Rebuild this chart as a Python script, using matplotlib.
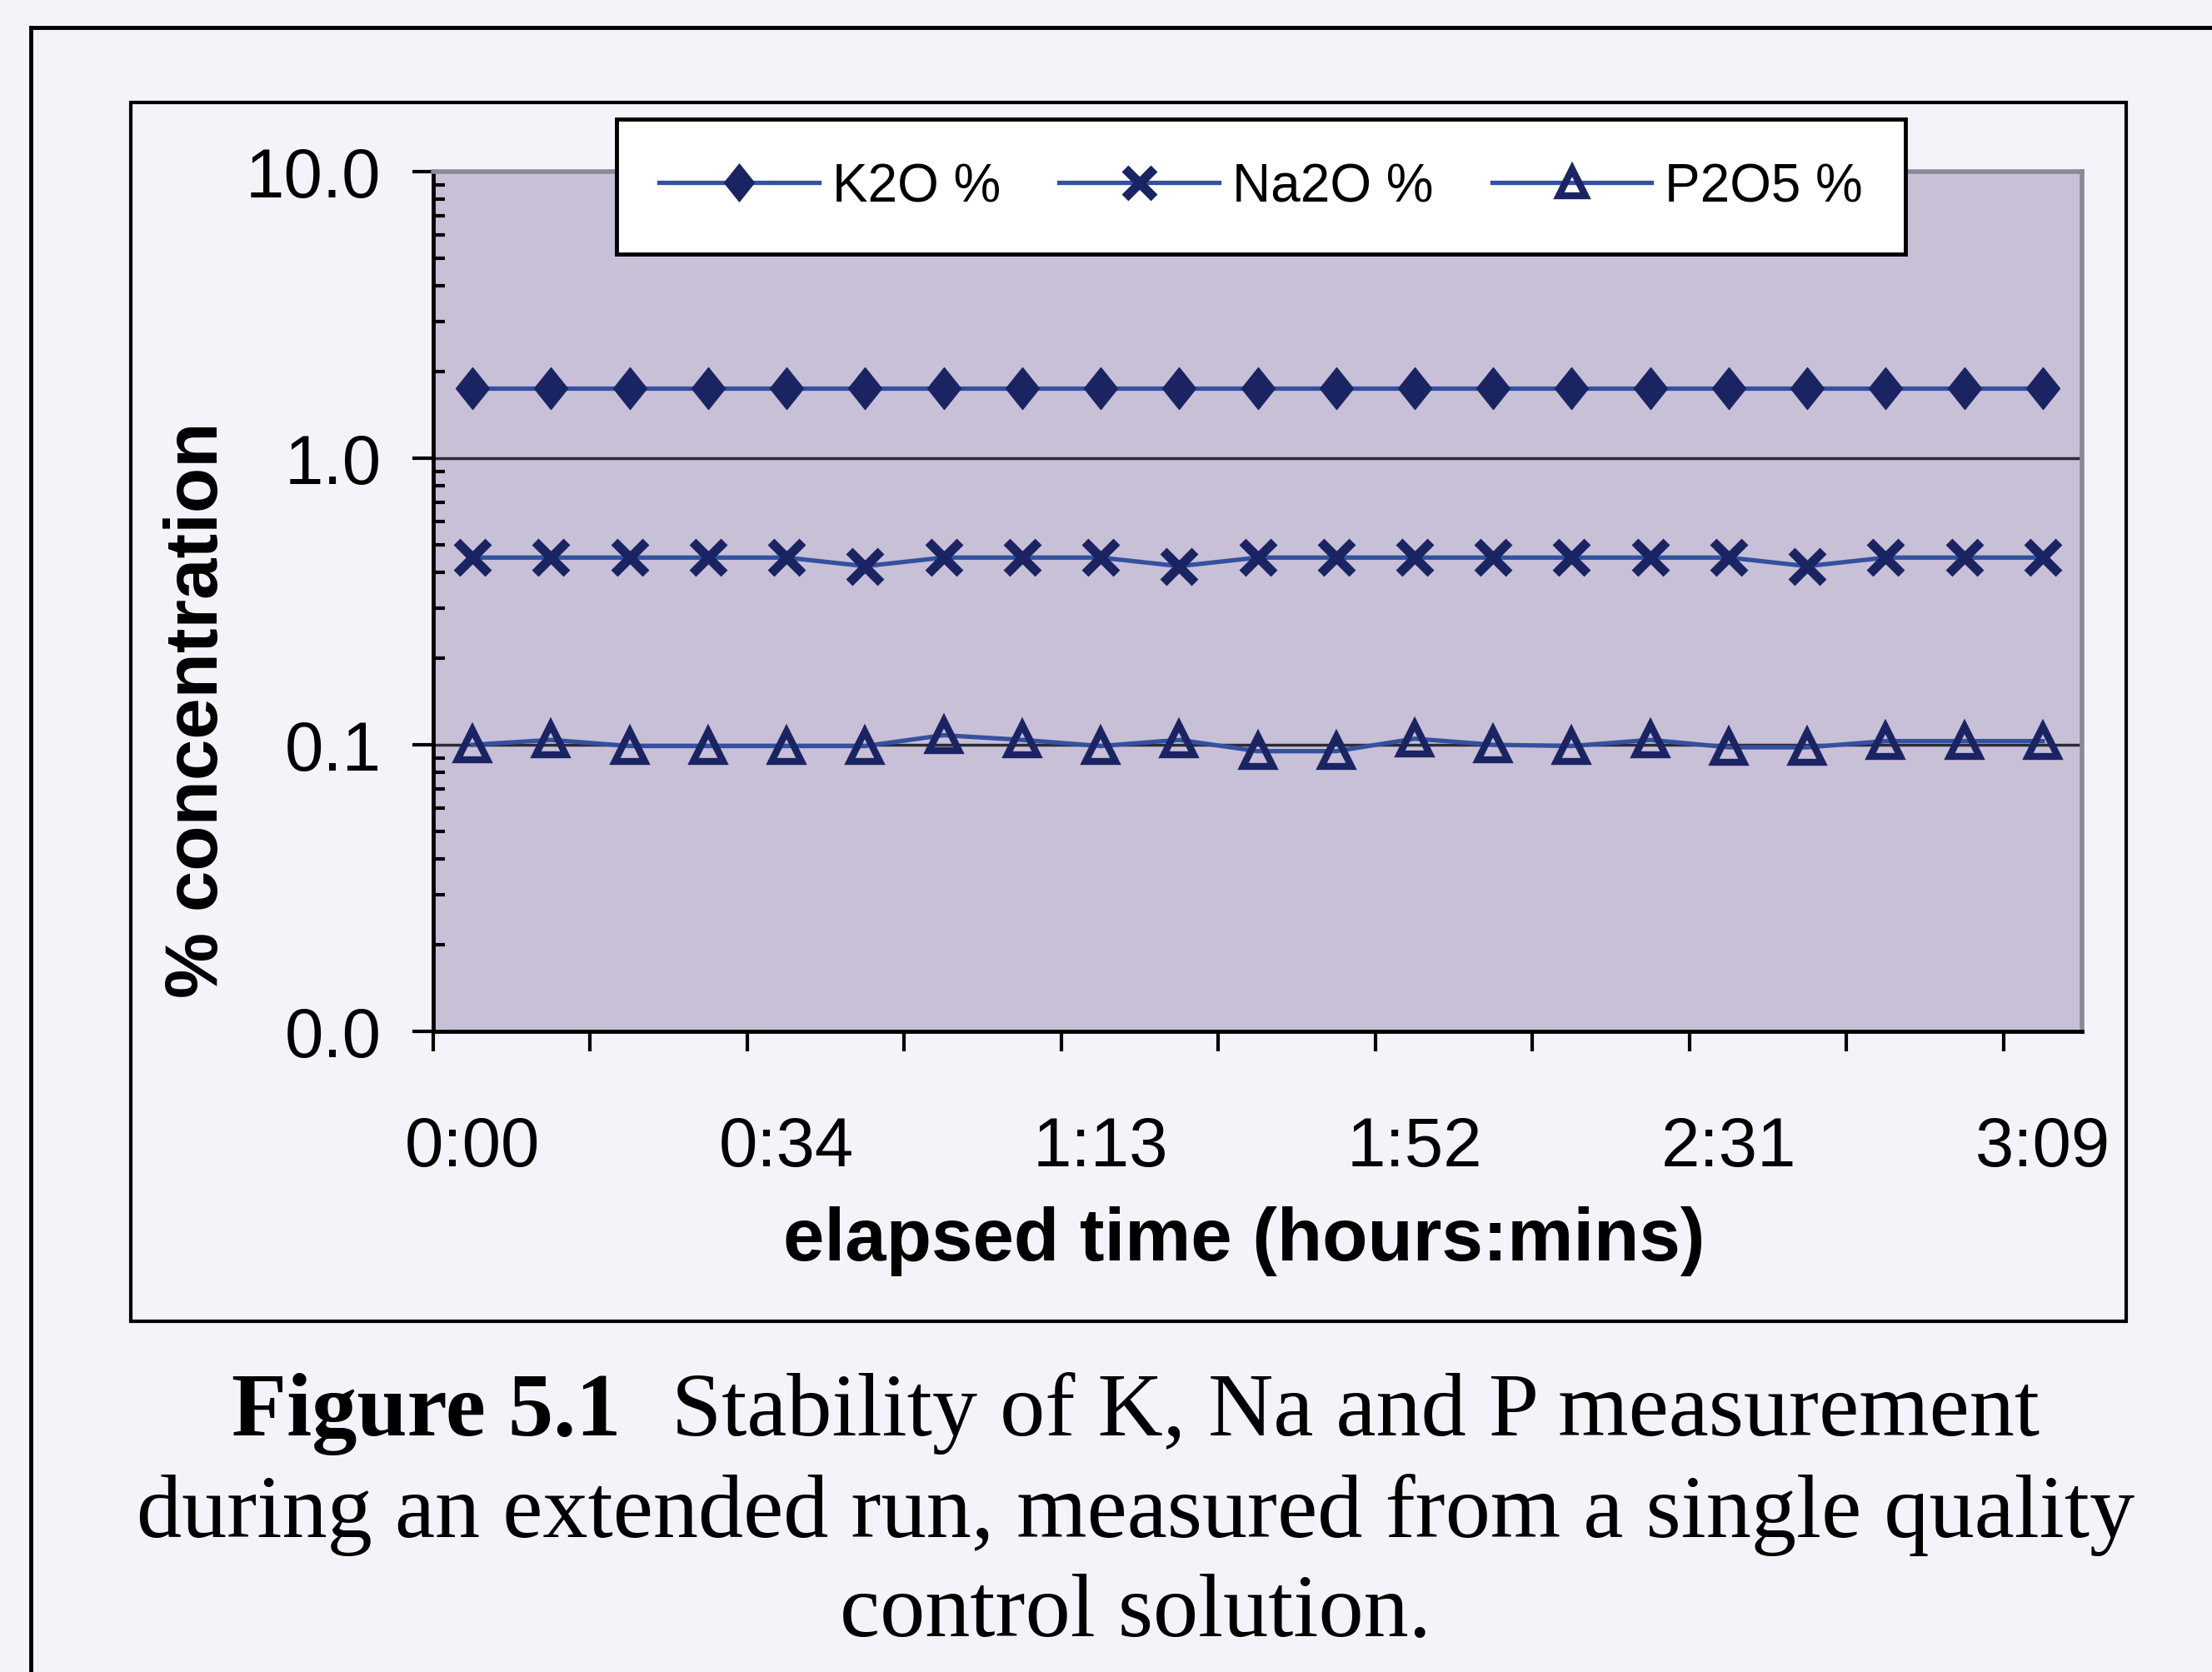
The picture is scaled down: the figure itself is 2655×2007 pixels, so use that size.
import matplotlib
matplotlib.use("Agg")
import matplotlib.pyplot as plt
from matplotlib.lines import Line2D
from matplotlib.patches import Rectangle
from matplotlib.path import Path
from matplotlib.ticker import LogLocator, NullFormatter, FixedLocator

# ---------------- data ----------------
k2o = [1.75, 1.75, 1.75, 1.75, 1.75, 1.75, 1.75, 1.75, 1.75, 1.75, 1.75,
       1.75, 1.75, 1.75, 1.75, 1.75, 1.75, 1.75, 1.75, 1.75, 1.75]
na2o = [0.45, 0.45, 0.45, 0.45, 0.45, 0.42, 0.45, 0.45, 0.45, 0.42, 0.45,
        0.45, 0.45, 0.45, 0.45, 0.45, 0.45, 0.42, 0.45, 0.45, 0.45]
p2o5 = [0.100, 0.104, 0.099, 0.099, 0.099, 0.099, 0.108, 0.104, 0.099, 0.104, 0.095,
        0.095, 0.105, 0.100, 0.099, 0.104, 0.098, 0.098, 0.103, 0.103, 0.103]
series_names = ["K2O %", "Na2O %", "P2O5 %"]
time_labels = ["0:00", "0:34", "1:13", "1:52", "2:31", "3:09"]
label_every = 4
tick_every = 2
y_ticks = [0.01, 0.1, 1.0, 10.0]
y_tick_labels = ["0.0", "0.1", "1.0", "10.0"]

# ---------------- style ----------------
W, H = 2655, 2008
DPI = 100
page_bg = "#f4f3fa"
plot_bg = "#c8c0d7"
line_col = "#33519f"
mark_col = "#1b2463"

def fx(px):
    return px / W

def fy(py):
    return 1 - py / H

fig = plt.figure(figsize=(W / DPI, H / DPI), dpi=DPI)
fig.patch.set_facecolor(page_bg)

# page frame (top + left lines)
fig.add_artist(Line2D([fx(37), 1.0], [fy(34), fy(34)], color="black", lw=3.5,
                      transform=fig.transFigure))
fig.add_artist(Line2D([fx(37), fx(37)], [fy(34), 0.0], color="black", lw=3.5,
                      transform=fig.transFigure))

# chart box
fig.add_artist(Rectangle((fx(157), fy(1587)), fx(2552) - fx(157), fy(124) - fy(1587),
                         transform=fig.transFigure, fill=False, ec="black", lw=3))

# axes
ax = fig.add_axes([fx(520), fy(1239), fx(2499) - fx(520), fy(207) - fy(1239)])
ax.set_facecolor(plot_bg)

n = len(k2o)
xs = list(range(n))

diamond = Path([(0, 1), (0.8, 0), (0, -1), (-0.8, 0), (0, 1)],
               [Path.MOVETO, Path.LINETO, Path.LINETO, Path.LINETO, Path.CLOSEPOLY])

styles = [
    dict(marker=diamond, ms=36, mfc=mark_col, mec=mark_col, mew=1),
    dict(marker="x", ms=28, mfc=mark_col, mec=mark_col, mew=8),
    dict(marker="^", ms=26, mfc="none", mec=mark_col, mew=6),
]
handles = []
for vals, name, st in zip([k2o, na2o, p2o5], series_names, styles):
    h, = ax.plot(xs, vals, color=line_col, lw=3.8, label=name, zorder=3, **st)
    handles.append(h)

ax.set_yscale("log")
ax.set_ylim(0.01, 10)
ax.set_xlim(-0.5, n - 0.5)

ax.set_yticks(y_ticks)
ax.set_yticklabels(y_tick_labels)
ax.yaxis.set_minor_locator(LogLocator(base=10, subs=[2, 3, 4, 5, 6, 7, 8, 9], numticks=20))
ax.yaxis.set_minor_formatter(NullFormatter())
ax.tick_params(axis="y", which="major", direction="out", length=18, width=3,
               pad=27, labelsize=60)
ax.tick_params(axis="y", which="minor", direction="in", length=10, width=3)

label_pos = xs[::label_every]
ax.set_xticks(label_pos)
ax.set_xticklabels(time_labels)
ax.xaxis.set_minor_locator(FixedLocator([x - 0.5 for x in xs[::tick_every]]))
ax.tick_params(axis="x", which="major", length=0, pad=72, labelsize=60)
ax.tick_params(axis="x", which="minor", direction="out", length=17, width=3)

for lab in ax.get_xticklabels() + ax.get_yticklabels():
    lab.set_fontfamily("Liberation Sans")

ax.grid(False)
for yv in y_ticks[1:3]:
    ax.axhline(yv, color="#2b2b33", lw=2.5, zorder=2)

for side in ["left", "bottom"]:
    ax.spines[side].set_color("black")
    ax.spines[side].set_linewidth(3.5)
for side in ["top", "right"]:
    ax.spines[side].set_color("#8d8799")
    ax.spines[side].set_linewidth(4)

# axis labels
fig.text(fx(1493), fy(1490), "elapsed time (hours:mins)", ha="center", va="center",
         fontsize=64, fontweight="bold", family="Liberation Sans")
fig.text(fx(238), fy(852), "% concentration", ha="center", va="center", rotation=90,
         fontsize=64, fontweight="bold", family="Liberation Sans")

# legend
leg = fig.legend(handles=handles, labels=series_names, loc="upper left",
                 bbox_to_anchor=(fx(740), fy(144)), bbox_transform=fig.transFigure,
                 ncol=3, frameon=True, fancybox=False, shadow=False,
                 prop={"family": "Liberation Sans", "size": 46},
                 handlelength=3.0, handletextpad=0.25, columnspacing=1.1,
                 borderpad=0.8, borderaxespad=0, markerscale=0.9)
leg.get_frame().set_edgecolor("black")
leg.get_frame().set_linewidth(3.5)
leg.get_frame().set_facecolor("white")
leg.get_frame().set_alpha(1)

# caption
renderer = fig.canvas.get_renderer()
cap_cx = 1363
cap_size = 78
t1 = fig.text(0, fy(1723), "Figure 5.1", fontsize=cap_size, fontweight="bold",
              family="Liberation Serif", va="baseline", ha="left")
t2 = fig.text(0, fy(1723), "Stability of K, Na and P measurement", fontsize=cap_size,
              family="Liberation Serif", va="baseline", ha="left")
w1 = t1.get_window_extent(renderer).width
w2 = t2.get_window_extent(renderer).width
gap = 60
start = cap_cx - (w1 + gap + w2) / 2
t1.set_x(fx(start))
t2.set_x(fx(start + w1 + gap))
fig.text(fx(cap_cx), fy(1845), "during an extended run, measured from a single quality",
         fontsize=cap_size, family="Liberation Serif", va="baseline", ha="center")
fig.text(fx(cap_cx), fy(1964), "control solution.",
         fontsize=cap_size, family="Liberation Serif", va="baseline", ha="center")

fig.savefig("out.png", dpi=DPI, facecolor=fig.get_facecolor())
